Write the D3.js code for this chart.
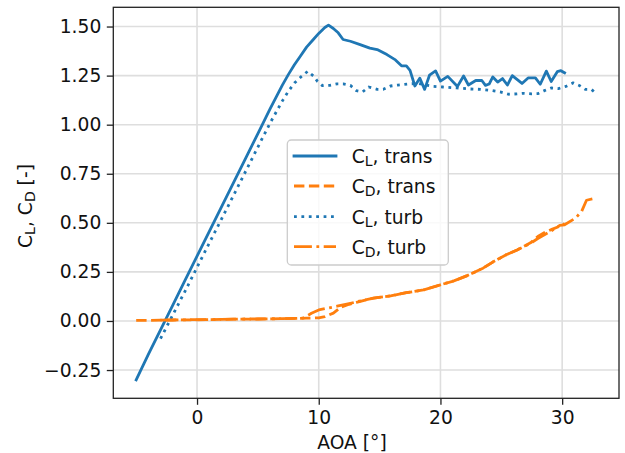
<!DOCTYPE html>
<html>
<head>
<meta charset="utf-8">
<script src="https://cdn.jsdelivr.net/npm/d3@7"></script>
<style>
  html, body { margin: 0; padding: 0; background: #fff; }
  svg { display: block; font-family: "DejaVu Sans", sans-serif; }
</style>
</head>
<body>
<svg id="chart" width="625" height="453"></svg>
<script>
// Lift and drag polars, transitional vs. fully turbulent boundary layer
const aoaClTrans = [-5, -4, -3, -2, -1, 0, 1, 2, 3, 4, 5, 6, 7, 7.5, 8, 8.5, 9, 9.5, 10, 10.5, 10.8, 11.2, 11.6, 12.0,
  12.6, 13.4, 14.2, 14.8, 15.6, 16.3, 16.8, 17.2, 17.5, 17.9, 18.3, 18.7, 19.1, 19.6, 20.0, 20.6, 21.4, 21.9,
  22.3, 22.9, 23.4, 23.7, 24.0, 24.3, 24.7, 25.1, 25.5, 25.9, 26.7, 27.2, 27.8, 28.2, 28.7, 29.1, 29.6, 29.9, 30.2];
const clTrans = [-0.30, -0.17, -0.045, 0.08, 0.205, 0.33, 0.455, 0.58, 0.705, 0.83, 0.955, 1.08, 1.20, 1.255, 1.305, 1.35, 1.395, 1.43, 1.465, 1.495, 1.507, 1.49, 1.468, 1.434,
  1.425, 1.408, 1.39, 1.383, 1.357, 1.33, 1.30, 1.30, 1.277, 1.197, 1.237, 1.18, 1.252, 1.274, 1.222, 1.246, 1.195, 1.248,
  1.202, 1.225, 1.225, 1.20, 1.207, 1.243, 1.217, 1.235, 1.202, 1.25, 1.21, 1.238, 1.238, 1.206, 1.273, 1.22, 1.27, 1.275, 1.264];

const aoaCdTrans = [-5, -4, -3, -2, -1, 0, 1, 2, 3, 4, 5, 6, 7, 8, 9, 10, 10.5, 11.2, 11.8, 12.5, 13.1, 14.5, 15.9, 17.2, 18.6,
  20.0, 21.1, 22.2, 23.5, 24.3, 25.4, 26.3, 27.4, 28.0, 28.6, 29.2, 29.7, 30.2];
const cdTrans = [0.003, 0.003, 0.004, 0.005, 0.006, 0.006, 0.007, 0.008, 0.009, 0.009, 0.010, 0.011, 0.012, 0.013, 0.014, 0.016, 0.022, 0.040, 0.070, 0.085, 0.095, 0.116, 0.128, 0.144, 0.158,
  0.184, 0.204, 0.231, 0.269, 0.300, 0.337, 0.362, 0.398, 0.430, 0.452, 0.468, 0.480, 0.495];

const aoaClTurb = [-3, -2, -1, 0, 1, 2, 3, 4, 5, 6, 7, 7.5, 8, 8.6, 9.1, 9.6, 9.9, 10.3, 10.9, 11.5, 12.0, 12.6, 13.1, 13.6,
  14.1, 14.8, 15.3, 15.9, 16.5, 17.4, 18.2, 19.4, 20.2, 21.3, 22.4, 23.3, 24.1, 24.9, 25.6, 26.3, 26.8, 27.5,
  28.0, 28.6, 29.1, 29.7, 30.3, 30.9, 31.4, 31.9, 32.4, 32.8];
const clTurb = [-0.09, 0.03, 0.15, 0.273, 0.396, 0.518, 0.64, 0.763, 0.886, 1.008, 1.12, 1.17, 1.212, 1.247, 1.272, 1.246, 1.22, 1.199, 1.20, 1.208, 1.208, 1.20, 1.173, 1.167,
  1.192, 1.18, 1.18, 1.197, 1.202, 1.208, 1.21, 1.195, 1.192, 1.187, 1.182, 1.18, 1.175, 1.167, 1.155, 1.157, 1.16, 1.157,
  1.158, 1.175, 1.187, 1.184, 1.195, 1.213, 1.20, 1.18, 1.18, 1.158];

const aoaCdTurb = [-3, -2, -1, 0, 1, 2, 3, 4, 5, 6, 7, 8, 8.7, 9.4, 10.0, 10.7, 11.5, 12.6, 13.5, 14.5, 15.9, 17.2, 18.6,
  20.0, 21.1, 22.2, 23.5, 24.3, 25.4, 26.3, 27.4, 28.0, 29.0, 29.8, 30.2, 31.1, 31.6, 32.0, 32.8];
const cdTurb = [0.004, 0.005, 0.006, 0.007, 0.007, 0.008, 0.009, 0.010, 0.010, 0.011, 0.012, 0.013, 0.014, 0.039, 0.056, 0.065, 0.075, 0.090, 0.103, 0.116, 0.128, 0.144, 0.158,
  0.184, 0.204, 0.231, 0.269, 0.300, 0.337, 0.362, 0.396, 0.420, 0.455, 0.487, 0.490, 0.524, 0.558, 0.615, 0.626];

const xTicks = [0, 10, 20, 30];
const yTicks = [-0.25, 0, 0.25, 0.5, 0.75, 1.0, 1.25, 1.5];
const seriesNames = [["C", "L", ", trans"], ["C", "D", ", trans"], ["C", "L", ", turb"], ["C", "D", ", turb"]];

const blue = "#1f77b4", orange = "#ff7f0e";
const lw = 2.8;
const styles = [
  { color: blue, dash: null },
  { color: orange, dash: "10.4,4.5" },
  { color: blue, dash: "2.8,4.6" },
  { color: orange, dash: "17.9,4.5,2.8,4.5" }
];
const series = [
  aoaClTrans.map((a, i) => [a, clTrans[i]]),
  aoaCdTrans.map((a, i) => [a, cdTrans[i]]),
  aoaClTurb.map((a, i) => [a, clTurb[i]]),
  aoaCdTurb.map((a, i) => [a, cdTurb[i]])
];

const L = 113.3, R = 619, T = 7.3, B = 398.3;
const x = d3.scaleLinear().domain([-6.88, 34.67]).range([L, R]);
const y = d3.scaleLinear().domain([-0.394, 1.598]).range([B, T]);
const fs = 18.7;

const svg = d3.select("#chart");

// grid
const grid = svg.append("g").attr("stroke", "#dedede").attr("stroke-width", 1.6);
grid.selectAll(".gx").data(xTicks).join("line")
  .attr("x1", d => x(d)).attr("x2", d => x(d)).attr("y1", T).attr("y2", B);
grid.selectAll(".gy").data(yTicks).join("line")
  .attr("x1", L).attr("x2", R).attr("y1", d => y(d)).attr("y2", d => y(d));

// axes
const xAxis = d3.axisBottom(x).tickValues(xTicks).tickFormat(d3.format("d")).tickSize(6.5).tickPadding(5.5);
const yAxis = d3.axisLeft(y).tickValues(yTicks).tickFormat(d => d3.format(".2f")(d).replace("-", "\u2212")).tickSize(6.5).tickPadding(5.5);
const gx = svg.append("g").attr("transform", `translate(0,${B})`).call(xAxis);
const gy = svg.append("g").attr("transform", `translate(${L},0)`).call(yAxis);
[gx, gy].forEach(g => {
  g.select(".domain").remove();
  g.selectAll(".tick line").attr("stroke", "#222").attr("stroke-width", 1.3);
  g.selectAll(".tick text").attr("font-size", fs).attr("font-family", "DejaVu Sans").attr("fill", "#111");
});

// curves
const clip = svg.append("clipPath").attr("id", "plotclip").append("rect")
  .attr("x", L).attr("y", T).attr("width", R - L).attr("height", B - T);
const line = d3.line().x(d => x(d[0])).y(d => y(d[1]));
const plot = svg.append("g").attr("clip-path", "url(#plotclip)");
series.forEach((s, i) => {
  plot.append("path").datum(s)
    .attr("d", line)
    .attr("fill", "none")
    .attr("stroke", styles[i].color)
    .attr("stroke-width", lw)
    .attr("stroke-linejoin", "round")
    .attr("stroke-linecap", styles[i].dash ? "butt" : "square")
    .attr("stroke-dasharray", styles[i].dash);
});

// frame
svg.append("rect").attr("x", L).attr("y", T).attr("width", R - L).attr("height", B - T)
  .attr("fill", "none").attr("stroke", "#222").attr("stroke-width", 1.3);

// axis labels
svg.append("text").attr("x", 352).attr("y", 449).attr("text-anchor", "middle")
  .attr("font-size", fs).attr("fill", "#111").text("AOA [°]");

const yl = svg.append("text").attr("transform", "translate(32,206) rotate(-90)")
  .attr("text-anchor", "middle").attr("font-size", fs).attr("fill", "#111");
[["C", "L", ", "], ["C", "D", " [-]"]].forEach(p => {
  yl.append("tspan").text(p[0]);
  yl.append("tspan").attr("font-size", 14).attr("dy", 3.3).text(p[1]);
  yl.append("tspan").attr("dy", -3.3).text(p[2]);
});

// legend
const lg = svg.append("g");
lg.append("rect").attr("x", 287.3).attr("y", 140).attr("width", 161).attr("height", 125)
  .attr("rx", 4).attr("fill", "#fff").attr("fill-opacity", 0.8)
  .attr("stroke", "#cccccc").attr("stroke-width", 1.3);
const rows = [156, 186, 216.7, 246.7];
seriesNames.forEach((n, i) => {
  lg.append("line").attr("x1", 294).attr("x2", 336).attr("y1", rows[i]).attr("y2", rows[i])
    .attr("stroke", styles[i].color).attr("stroke-width", lw)
    .attr("stroke-linecap", styles[i].dash ? "butt" : "square")
    .attr("stroke-dasharray", styles[i].dash);
  const t = lg.append("text").attr("x", 351.7).attr("y", rows[i] + 6.8)
    .attr("font-size", fs).attr("fill", "#111");
  t.append("tspan").text(n[0]);
  t.append("tspan").attr("font-size", 14).attr("dy", 3.3).text(n[1]);
  t.append("tspan").attr("dy", -3.3).text(n[2]);
});
</script>
</body>
</html>
